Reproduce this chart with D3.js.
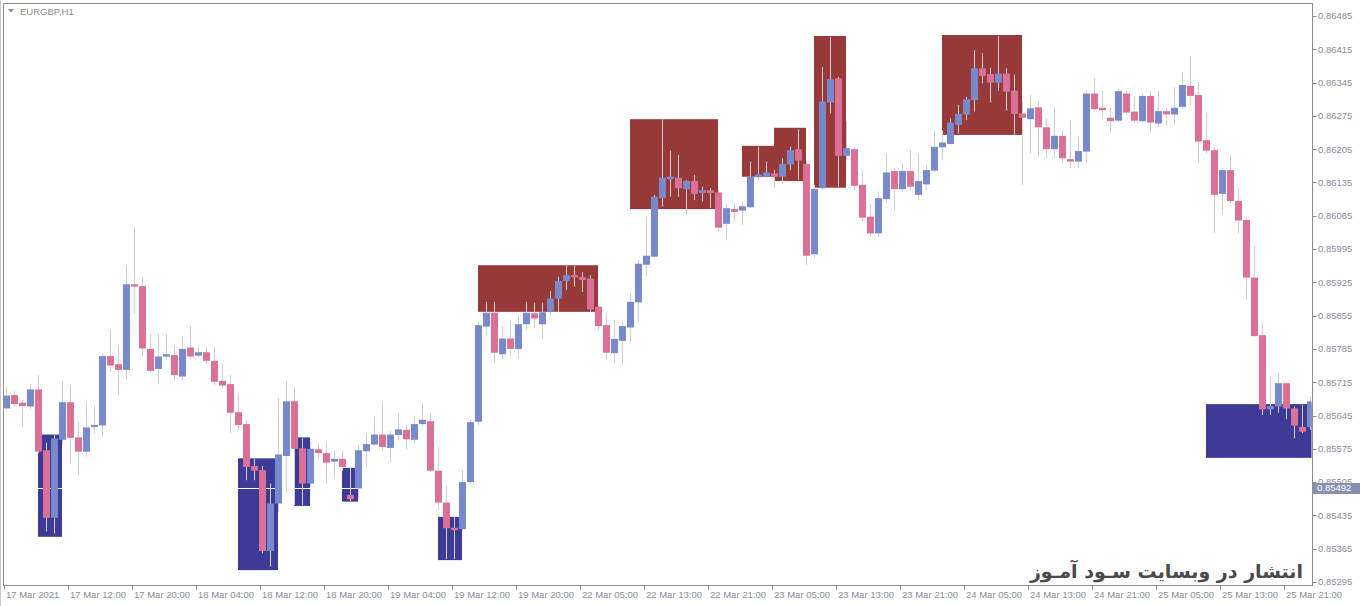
<!DOCTYPE html>
<html><head><meta charset="utf-8">
<script src="https://cdn.jsdelivr.net/npm/d3@7"></script>
<style>body{margin:0;background:#fff}svg{display:block}</style>
</head><body><svg id="c" width="1360" height="606"></svg>
<script>
// ---- data (EURGBP H1, bar 0 = 17 Mar 2021 04:00) ----
const symbolTitle = "EURGBP,H1";
const openP = [0.85660,0.85688,0.85672,0.85664,0.85700,0.85572,0.85430,0.85594,0.85673,0.85599,
0.85569,0.85621,0.85624,0.85770,0.85753,0.85741,0.85921,0.85917,0.85785,0.85743,
0.85769,0.85772,0.85727,0.85788,0.85771,0.85778,0.85760,0.85718,0.85711,0.85652,
0.85627,0.85539,0.85530,0.85360,0.85460,0.85560,0.85675,0.85576,0.85502,0.85574,
0.85566,0.85548,0.85554,0.85478,0.85492,0.85570,0.85584,0.85605,0.85577,0.85604,
0.85615,0.85594,0.85627,0.85633,0.85529,0.85462,0.85409,0.85406,0.85505,0.85632,
0.85832,0.85861,0.85774,0.85807,0.85785,0.85837,0.85860,0.85837,0.85863,0.85891,
0.85928,0.85940,0.85936,0.85933,0.85874,0.85835,0.85776,0.85802,0.85830,0.85883,
0.85962,0.85979,0.86102,0.86142,0.86145,0.86121,0.86138,0.86113,0.86119,0.86114,
0.86048,0.86079,0.86076,0.86083,0.86146,0.86147,0.86154,0.86147,0.86173,0.86205,
0.86174,0.85984,0.86123,0.86303,0.86354,0.86191,0.86205,0.86130,0.86063,0.86028,
0.86100,0.86159,0.86121,0.86159,0.86109,0.86131,0.86160,0.86209,0.86216,0.86256,
0.86278,0.86308,0.86375,0.86363,0.86345,0.86364,0.86328,0.86280,0.86268,0.86293,
0.86251,0.86205,0.86233,0.86184,0.86179,0.86200,0.86322,0.86292,0.86271,0.86265,
0.86322,0.86284,0.86264,0.86317,0.86259,0.86285,0.86278,0.86294,0.86338,0.86319,
0.86224,0.86203,0.86111,0.86161,0.86096,0.86056,0.85935,0.85814,0.85658,0.85664,
0.85713,0.85660,0.85621,0.85621];
const highP = [0.85706,0.85697,0.85678,0.85711,0.85730,0.85588,0.85604,0.85716,0.85709,0.85632,
0.85674,0.85665,0.85776,0.85826,0.85793,0.85961,0.86042,0.85936,0.85816,0.85816,
0.85816,0.85793,0.85811,0.85833,0.85793,0.85790,0.85790,0.85753,0.85730,0.85692,
0.85636,0.85555,0.85539,0.85502,0.85681,0.85716,0.85706,0.85597,0.85590,0.85588,
0.85590,0.85572,0.85572,0.85535,0.85583,0.85608,0.85642,0.85674,0.85612,0.85650,
0.85625,0.85642,0.85672,0.85650,0.85579,0.85497,0.85432,0.85530,0.85636,0.85842,
0.85884,0.85884,0.85832,0.85846,0.85858,0.85884,0.85882,0.85882,0.85907,0.85937,
0.85961,0.85960,0.85947,0.85940,0.85877,0.85860,0.85846,0.85844,0.85902,0.85972,
0.86063,0.86109,0.86268,0.86202,0.86193,0.86140,0.86151,0.86126,0.86123,0.86119,
0.86091,0.86091,0.86095,0.86179,0.86210,0.86179,0.86161,0.86186,0.86210,0.86247,
0.86182,0.86130,0.86378,0.86441,0.86357,0.86263,0.86210,0.86161,0.86091,0.86116,
0.86196,0.86165,0.86175,0.86203,0.86196,0.86172,0.86245,0.86245,0.86270,0.86298,
0.86315,0.86413,0.86407,0.86376,0.86443,0.86375,0.86362,0.86305,0.86319,0.86305,
0.86270,0.86293,0.86245,0.86266,0.86230,0.86328,0.86354,0.86328,0.86293,0.86331,
0.86329,0.86317,0.86321,0.86328,0.86328,0.86291,0.86336,0.86368,0.86401,0.86345,
0.86282,0.86209,0.86165,0.86193,0.86123,0.86063,0.86001,0.85839,0.85728,0.85735,
0.85714,0.85664,0.85667,0.85685];
const lowP = [0.85657,0.85664,0.85621,0.85658,0.85566,0.85401,0.85397,0.85583,0.85545,0.85520,
0.85558,0.85608,0.85600,0.85737,0.85688,0.85720,0.85860,0.85769,0.85736,0.85713,
0.85762,0.85718,0.85720,0.85762,0.85766,0.85755,0.85709,0.85703,0.85608,0.85615,
0.85509,0.85509,0.85355,0.85327,0.85443,0.85481,0.85457,0.85457,0.85495,0.85551,
0.85502,0.85513,0.85528,0.85465,0.85472,0.85534,0.85581,0.85572,0.85547,0.85594,
0.85574,0.85587,0.85623,0.85526,0.85446,0.85343,0.85343,0.85402,0.85501,0.85625,
0.85814,0.85756,0.85763,0.85770,0.85765,0.85826,0.85828,0.85807,0.85856,0.85863,
0.85909,0.85916,0.85905,0.85863,0.85825,0.85762,0.85755,0.85751,0.85798,0.85842,
0.85937,0.85976,0.86084,0.86105,0.86105,0.86067,0.86098,0.86095,0.86081,0.86031,
0.86015,0.86052,0.86046,0.86081,0.86140,0.86144,0.86123,0.86133,0.86161,0.86140,
0.85961,0.85976,0.86119,0.86280,0.86126,0.86182,0.86119,0.86052,0.86021,0.86021,
0.86091,0.86077,0.86115,0.86119,0.86098,0.86119,0.86157,0.86182,0.86214,0.86238,
0.86266,0.86284,0.86343,0.86303,0.86328,0.86286,0.86235,0.86130,0.86196,0.86189,
0.86186,0.86186,0.86177,0.86165,0.86165,0.86175,0.86284,0.86270,0.86238,0.86262,
0.86277,0.86260,0.86261,0.86238,0.86251,0.86254,0.86256,0.86289,0.86298,0.86177,
0.86196,0.86029,0.86068,0.86092,0.86028,0.85888,0.85811,0.85646,0.85646,0.85651,
0.85637,0.85597,0.85608,0.85615];
const closeP = [0.85687,0.85669,0.85665,0.85700,0.85569,0.85430,0.85597,0.85673,0.85598,0.85569,
0.85620,0.85625,0.85770,0.85750,0.85741,0.85921,0.85916,0.85786,0.85739,0.85769,
0.85774,0.85730,0.85785,0.85769,0.85778,0.85760,0.85716,0.85708,0.85651,0.85625,
0.85537,0.85529,0.85360,0.85460,0.85563,0.85675,0.85575,0.85502,0.85575,0.85566,
0.85546,0.85554,0.85537,0.85469,0.85572,0.85585,0.85605,0.85579,0.85605,0.85616,
0.85595,0.85627,0.85636,0.85529,0.85462,0.85408,0.85404,0.85505,0.85631,0.85835,
0.85861,0.85777,0.85807,0.85785,0.85837,0.85861,0.85849,0.85862,0.85891,0.85928,
0.85940,0.85936,0.85930,0.85868,0.85833,0.85777,0.85806,0.85833,0.85884,0.85964,
0.85981,0.86105,0.86145,0.86147,0.86123,0.86138,0.86111,0.86119,0.86113,0.86040,
0.86081,0.86073,0.86085,0.86147,0.86152,0.86156,0.86147,0.86174,0.86203,0.86181,
0.85981,0.86121,0.86305,0.86352,0.86191,0.86207,0.86128,0.86061,0.86028,0.86102,
0.86156,0.86121,0.86159,0.86126,0.86138,0.86161,0.86210,0.86219,0.86261,0.86279,
0.86310,0.86375,0.86359,0.86345,0.86364,0.86326,0.86279,0.86271,0.86291,0.86251,
0.86205,0.86233,0.86186,0.86179,0.86201,0.86322,0.86289,0.86287,0.86264,0.86327,
0.86282,0.86265,0.86317,0.86261,0.86285,0.86278,0.86292,0.86340,0.86317,0.86221,
0.86202,0.86109,0.86161,0.86096,0.86055,0.85935,0.85812,0.85658,0.85665,0.85713,
0.85660,0.85624,0.85611,0.85675];

// demand zones (blue) and supply zones (red): bar from, bar to, price top, price bottom
const demandFrom = [4, 29, 36, 42, 54, 150];
const demandTo   = [7, 34, 38, 44, 57, 166];
const demandTop  = [0.85605, 0.85555, 0.85599, 0.85535, 0.85432, 0.85669];
const demandBot  = [0.85390, 0.85320, 0.85455, 0.85464, 0.85341, 0.85556];
const supplyFrom = [59, 78, 92, 96, 101, 117];
const supplyTo   = [74, 89, 96, 100, 105, 127];
const supplyTop  = [0.85961, 0.86268, 0.86212, 0.86250, 0.86443, 0.86445];
const supplyBot  = [0.85863, 0.86079, 0.86147, 0.86138, 0.86124, 0.86235];

const priceTicks = d3.range(18).map(k => +(0.85295 + k*0.0007).toFixed(5));
const timeTickBars = [0,8,16,24,32,40,48,56,64,72,80,88,96,104,112,120,128,136,144,152,160];
const timeTickLabels = ["17 Mar 2021","17 Mar 12:00","17 Mar 20:00","18 Mar 04:00","18 Mar 12:00","18 Mar 20:00",
"19 Mar 04:00","19 Mar 12:00","19 Mar 20:00","22 Mar 05:00","22 Mar 13:00","22 Mar 21:00","23 Mar 05:00",
"23 Mar 13:00","23 Mar 21:00","24 Mar 05:00","24 Mar 13:00","24 Mar 21:00","25 Mar 05:00","25 Mar 13:00","25 Mar 21:00"];
const bidPrice = 0.85492;
const watermark = "انتشار در وبسایت سـود آمـوز";

// ---- drawing ----
const svg = d3.select("#c");
const L = 3, R = 1312, T = 3, B = 585;
const x = d3.scaleLinear().domain([0, 163]).range([6, 1310]);
const y = d3.scaleLinear().domain([0.85295, 0.86485]).range([582, 16]);
const bars = openP.map((o,i)=>({i, o, h:highP[i], l:lowP[i], c:closeP[i]}));

svg.append("defs").append("clipPath").attr("id","pc").append("rect")
  .attr("x",L+0.5).attr("y",T+0.5).attr("width",R-L-1).attr("height",B-T-1);
const plot = svg.append("g").attr("clip-path","url(#pc)");

const zone = (from,to,top,bot,color) => plot.append("g").selectAll("rect")
  .data(from.map((f,k)=>({f, t:to[k], top:top[k], bot:bot[k]}))).join("rect")
  .attr("x", d=>x(d.f)).attr("width", d=>x(d.t)-x(d.f))
  .attr("y", d=>y(d.top)).attr("height", d=>y(d.bot)-y(d.top)).attr("fill", color);
zone(supplyFrom, supplyTo, supplyTop, supplyBot, "#983a3a");
zone(demandFrom, demandTo, demandTop, demandBot, "#3d3b96");

// bid line
plot.append("line").attr("x1",L).attr("x2",R).attr("y1",Math.round(y(bidPrice))+0.5).attr("y2",Math.round(y(bidPrice))+0.5)
  .attr("stroke","#ffffff").attr("stroke-width",1);

// wicks
plot.append("g").selectAll("line").data(bars).join("line")
  .attr("x1", d=>Math.round(x(d.i))+0.5).attr("x2", d=>Math.round(x(d.i))+0.5)
  .attr("y1", d=>y(d.h)).attr("y2", d=>y(d.l))
  .attr("stroke", "#cfcfcf").attr("stroke-width",1);
// bodies
const bw = 7;
plot.append("g").selectAll("rect").data(bars).join("rect")
  .attr("x", d=>Math.round(x(d.i))-3)
  .attr("width", bw)
  .attr("y", d=>y(Math.max(d.o,d.c)))
  .attr("height", d=>Math.max(2, Math.abs(y(d.o)-y(d.c))))
  .attr("fill", d=> d.c>=d.o ? "#7889cd" : "#db7099");

// frame
svg.append("rect").attr("x",L+0.5).attr("y",T+0.5).attr("width",R-L).attr("height",B-T)
  .attr("fill","none").attr("stroke","#8c8c8c");
svg.append("line").attr("x1",0.5).attr("x2",0.5).attr("y1",0).attr("y2",606).attr("stroke","#c8c8c8");

// y axis
const axCol = "#8a8ea0";
const yg = svg.append("g");
yg.selectAll("line").data(priceTicks).join("line")
  .attr("x1",R+0.5).attr("x2",R+4.5).attr("y1",d=>Math.round(y(d))+0.5).attr("y2",d=>Math.round(y(d))+0.5)
  .attr("stroke","#8c8c8c");
yg.selectAll("text").data(priceTicks).join("text")
  .attr("x",R+6).attr("y",d=>y(d)).attr("dy","0.35em")
  .attr("font-family","Liberation Sans, Arial, sans-serif").attr("font-size","9.5px").attr("fill",axCol)
  .text(d=>d3.format(".5f")(d));

// x axis
const xg = svg.append("g");
xg.selectAll("line").data(timeTickBars).join("line")
  .attr("x1",d=>Math.round(x(d))-1.5).attr("x2",d=>Math.round(x(d))-1.5).attr("y1",B+0.5).attr("y2",B+4.5)
  .attr("stroke","#8c8c8c");
xg.selectAll("text").data(timeTickBars).join("text")
  .attr("x",d=>Math.round(x(d))).attr("y",598)
  .attr("font-family","Liberation Sans, Arial, sans-serif").attr("font-size","9.5px").attr("fill",axCol)
  .text((d,k)=>timeTickLabels[k]);

// bid label
const by = Math.round(y(bidPrice));
svg.append("rect").attr("x",R+1).attr("y",by-5).attr("width",47).attr("height",11).attr("fill","#8790b3");
svg.append("text").attr("x",R+5).attr("y",by).attr("dy","0.36em")
  .attr("font-family","Liberation Sans, Arial, sans-serif").attr("font-size","9.5px").attr("fill","#ffffff")
  .text(d3.format(".5f")(bidPrice));

// title
svg.append("path").attr("d","M8,9 L14,9 L11,12.5 Z").attr("fill","#8c8c8c");
svg.append("text").attr("x",20).attr("y",15).attr("font-family","Liberation Sans, Arial, sans-serif")
  .attr("font-size","9.5px").attr("fill","#8c8c8c").text(symbolTitle);

// watermark
svg.append("text").attr("x",1303).attr("y",578).attr("text-anchor","end")
  .attr("font-family","DejaVu Sans, Noto Sans, sans-serif").attr("font-weight","bold")
  .attr("font-size","19px").attr("fill","#4a4a4a").text(watermark);
</script></body></html>
